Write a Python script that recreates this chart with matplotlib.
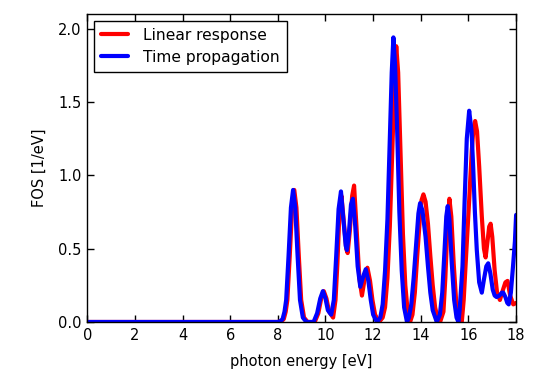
import matplotlib
matplotlib.use("Agg")
import matplotlib.pyplot as plt

# Linear response spectrum (photon energy [eV], FOS [1/eV])
energy_lr = [0.0, 8.0, 8.15, 8.25, 8.33, 8.4, 8.5, 8.6, 8.69, 8.78, 8.88, 8.98, 9.1, 9.25, 9.55,
             9.7, 9.82, 9.93, 10.04, 10.15, 10.32, 10.42, 10.5, 10.58, 10.67, 10.77,
             10.87, 10.93, 11.02, 11.12, 11.2, 11.3, 11.42, 11.53, 11.65, 11.76, 11.87,
             11.97, 12.08, 12.25, 12.4, 12.5, 12.6, 12.7, 12.8, 12.9, 12.97, 13.05,
             13.15, 13.25, 13.35, 13.45, 13.55, 13.65, 13.75, 13.85, 13.95, 14.03,
             14.11, 14.2, 14.3, 14.4, 14.5, 14.6, 14.7, 14.81, 14.95, 15.03, 15.1,
             15.2, 15.28, 15.38, 15.48, 15.6, 15.72, 15.8, 15.9, 16.03, 16.14, 16.21,
             16.28, 16.36, 16.45, 16.56, 16.65, 16.72, 16.8, 16.87, 16.93, 17.0, 17.1,
             17.2, 17.32, 17.45, 17.55, 17.64, 17.75, 17.88, 18.0]
fos_lr = [0.0, 0.0, 0.005, 0.02, 0.07, 0.15, 0.45, 0.78, 0.90, 0.78, 0.45, 0.15, 0.03, 0.0, 0.0,
          0.06, 0.16, 0.21, 0.16, 0.07, 0.03, 0.15, 0.40, 0.72, 0.86, 0.68,
          0.50, 0.47, 0.62, 0.86, 0.93, 0.65, 0.30, 0.18, 0.30, 0.37, 0.28,
          0.15, 0.05, 0.0, 0.03, 0.10, 0.30, 0.65, 1.15, 1.65, 1.88, 1.70,
          1.15, 0.60, 0.25, 0.07, 0.0, 0.05, 0.20, 0.45, 0.68, 0.83,
          0.87, 0.82, 0.67, 0.45, 0.25, 0.10, 0.03, 0.0, 0.07, 0.30, 0.58,
          0.84, 0.72, 0.40, 0.15, 0.03, 0.0, 0.15, 0.45, 0.83, 1.17, 1.32,
          1.37, 1.30, 1.06, 0.72, 0.50, 0.44, 0.55, 0.65, 0.67, 0.58, 0.35,
          0.20, 0.15, 0.22, 0.27, 0.28, 0.18, 0.12, 0.13]

# Time propagation spectrum
energy_tp = [0.0, 8.0, 8.1, 8.2, 8.28, 8.35, 8.45, 8.55, 8.64, 8.73, 8.83, 8.93, 9.05, 9.2, 9.5,
             9.65, 9.78, 9.89, 10.0, 10.1, 10.24, 10.35, 10.45, 10.55, 10.65, 10.75,
             10.85, 10.9, 10.98, 11.07, 11.15, 11.25, 11.35, 11.46, 11.58, 11.69, 11.8,
             11.9, 12.0, 12.16, 12.3, 12.4, 12.5, 12.6, 12.7, 12.78, 12.85, 12.92,
             13.0, 13.1, 13.2, 13.3, 13.42, 13.5, 13.6, 13.7, 13.8, 13.9, 13.97,
             14.07, 14.2, 14.3, 14.4, 14.5, 14.67, 14.8, 14.9, 15.0, 15.07, 15.13,
             15.2, 15.3, 15.4, 15.5, 15.58, 15.63, 15.75, 15.84, 15.93, 16.03, 16.13,
             16.2, 16.27, 16.35, 16.45, 16.56, 16.65, 16.75, 16.83, 16.92, 17.02,
             17.1, 17.18, 17.3, 17.4, 17.46, 17.55, 17.63, 17.69, 17.78, 17.87,
             17.95, 18.0]
fos_tp = [0.0, 0.0, 0.005, 0.02, 0.07, 0.15, 0.45, 0.78, 0.90, 0.78, 0.45, 0.15, 0.03, 0.0, 0.0,
          0.06, 0.16, 0.21, 0.16, 0.08, 0.05, 0.15, 0.45, 0.77, 0.89, 0.70,
          0.52, 0.49, 0.60, 0.80, 0.84, 0.65, 0.38, 0.24, 0.31, 0.36, 0.28,
          0.15, 0.05, 0.0, 0.03, 0.12, 0.35, 0.70, 1.25, 1.70, 1.94, 1.75,
          1.35, 0.75, 0.35, 0.10, 0.0, 0.03, 0.12, 0.30, 0.52, 0.74, 0.81,
          0.76, 0.58, 0.38, 0.20, 0.08, 0.0, 0.05, 0.20, 0.50, 0.72, 0.79,
          0.70, 0.40, 0.15, 0.03, 0.0, 0.08, 0.38, 0.83, 1.25, 1.44, 1.30,
          1.05, 0.75, 0.49, 0.27, 0.20, 0.29, 0.38, 0.40, 0.33, 0.22,
          0.18, 0.17, 0.18, 0.20, 0.20, 0.17, 0.13, 0.12, 0.20, 0.38,
          0.55, 0.73]

series_labels = ["Linear response", "Time propagation"]
x_ticks = [0, 2, 4, 6, 8, 10, 12, 14, 16, 18]
y_ticks = [0.0, 0.5, 1.0, 1.5, 2.0]

plt.rcParams['font.family'] = ['DejaVu Sans']
plt.rcParams['xtick.direction'] = 'in'
plt.rcParams['ytick.direction'] = 'in'
plt.rcParams['xtick.top'] = True
plt.rcParams['ytick.right'] = True

fig = plt.figure(figsize=(5.45, 3.87), dpi=100, facecolor='white')
ax = fig.add_axes([0.160, 0.168, 0.787, 0.796])

ax.plot(energy_lr, fos_lr, color='#ff0000', lw=3, label=series_labels[0],
        solid_joinstyle='round', solid_capstyle='round')
ax.plot(energy_tp, fos_tp, color='#0000ff', lw=3, label=series_labels[1],
        solid_joinstyle='round', solid_capstyle='round')

ax.set_xlim(0, 18)
ax.set_ylim(0, 2.1)
ax.set_xticks(x_ticks)
ax.set_yticks(y_ticks)
ax.set_yticklabels([f"{v:.1f}" for v in y_ticks])
ax.tick_params(axis='both', which='major', labelsize=10.5, length=5, width=1,
               pad=4, color='black')
for s in ax.spines.values():
    s.set_color('black')
    s.set_linewidth(1)

ax.set_xlabel("photon energy [eV]", fontsize=10.5, labelpad=8)
ax.set_ylabel("FOS [1/eV]", fontsize=10.5, labelpad=8)

leg = ax.legend(loc='upper left', fontsize=11.2, fancybox=False, framealpha=1,
                edgecolor='black', handlelength=1.7, borderaxespad=0.45,
                handletextpad=1.0, borderpad=0.45, labelspacing=0.45)
leg.get_frame().set_linewidth(1)

fig.savefig("out.png", dpi=100, facecolor='white')
